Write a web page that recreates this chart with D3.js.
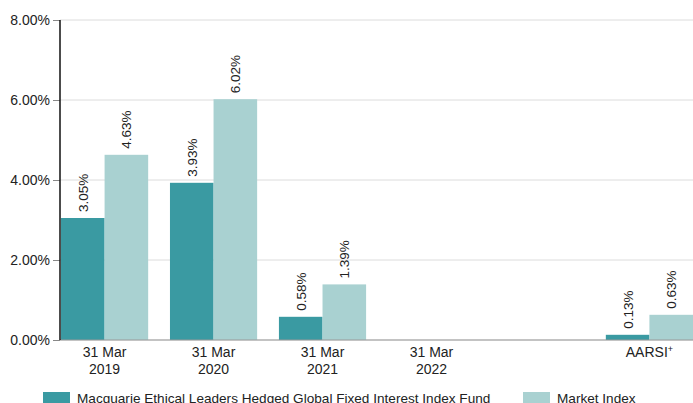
<!DOCTYPE html>
<html>
<head>
<meta charset="utf-8">
<script src="https://cdn.jsdelivr.net/npm/d3@7"></script>
<style>
  body { margin: 0; background: #fff; }
  text { font-family: "Liberation Sans", Arial, sans-serif; fill: #222; }
</style>
</head>
<body>
<script>
// categories along the x axis (one empty slot before AARSI)
var categories = ["2019", "2020", "2021", "2022", "gap", "AARSI"];
var catLabels = [["31 Mar", "2019"], ["31 Mar", "2020"], ["31 Mar", "2021"], ["31 Mar", "2022"], [], ["AARSI"]];
var fundValues = [3.05, 3.93, 0.58, null, null, 0.13];
var marketValues = [4.63, 6.02, 1.39, null, null, 0.63];
var seriesNames = ["Macquarie Ethical Leaders Hedged Global Fixed Interest Index Fund", "Market Index"];
var yTicks = [0, 2, 4, 6, 8];

var w = 693, h = 403;
var left = 60, topY = 20, bottom = 340;
var colours = ["#3a9aa2", "#a9d1d1"];

var svg = d3.select("body").append("svg")
    .attr("width", w)
    .attr("height", h);

var x = d3.scaleBand().domain(categories).range([61, 693]).paddingInner(0.2).paddingOuter(0);
var x1 = d3.scaleBand().domain([0, 1]).range([0, x.bandwidth()]);
var y = d3.scaleLinear().domain([0, 8]).range([bottom, topY]);

// gridlines
svg.append("g")
    .selectAll("line")
    .data(yTicks)
    .enter().append("line")
    .attr("x1", left)
    .attr("x2", w)
    .attr("y1", function(d) { return y(d); })
    .attr("y2", function(d) { return y(d); })
    .attr("stroke", "#dcdcdc")
    .attr("stroke-width", 1);

// y axis
var yAxis = d3.axisLeft(y)
    .tickValues(yTicks)
    .tickSize(7)
    .tickPadding(3)
    .tickFormat(function(d) { return d.toFixed(2) + "%"; });

var gy = svg.append("g")
    .attr("transform", "translate(" + left + ",0)")
    .call(yAxis);
gy.select(".domain").remove();
gy.selectAll(".tick line").attr("stroke", "#888");
gy.selectAll("text").style("font-size", "14px").attr("fill", "#222")
    .style("font-family", "'Liberation Sans', Arial, sans-serif");

// bars
var series = [fundValues, marketValues];
series.forEach(function(vals, s) {
    var rows = categories.map(function(c, i) { return {c: c, v: vals[i]}; })
        .filter(function(d) { return d.v != null; });

    svg.append("g").selectAll("rect")
        .data(rows)
        .enter().append("rect")
        .attr("x", function(d) { return x(d.c) + x1(s); })
        .attr("width", x1.bandwidth())
        .attr("y", function(d) { return y(d.v); })
        .attr("height", function(d) { return y(0) - y(d.v); })
        .attr("fill", colours[s]);

    svg.append("g").selectAll("text")
        .data(rows)
        .enter().append("text")
        .attr("transform", function(d) {
            var cx = x(d.c) + x1(s) + x1.bandwidth() / 2 + 5;
            return "translate(" + cx + "," + (y(d.v) - 6) + ") rotate(-90)";
        })
        .style("font-size", "13.5px")
        .text(function(d) { return d.v.toFixed(2) + "%"; });
});

// baseline and y axis line
svg.append("line")
    .attr("x1", left).attr("x2", w)
    .attr("y1", bottom).attr("y2", bottom)
    .attr("stroke", "#999");
svg.append("line")
    .attr("x1", left).attr("x2", left)
    .attr("y1", topY).attr("y2", bottom)
    .attr("stroke", "#111")
    .attr("stroke-width", 1.5);

// x labels
categories.forEach(function(c, i) {
    var cx = x(c) + x.bandwidth() / 2;
    catLabels[i].forEach(function(line, j) {
        var t = svg.append("text")
            .attr("x", cx)
            .attr("y", 357 + j * 17)
            .attr("text-anchor", "middle")
            .style("font-size", "14px")
            .text(line);
        if (c == "AARSI") {
            t.append("tspan").attr("dy", -5).style("font-size", "9px").text("+");
        }
    });
});

// legend
var legendX = [43, 523];
seriesNames.forEach(function(name, i) {
    svg.append("rect")
        .attr("x", legendX[i])
        .attr("y", 392)
        .attr("width", 27)
        .attr("height", 12)
        .attr("fill", colours[i]);
    svg.append("text")
        .attr("x", legendX[i] + 34)
        .attr("y", 403)
        .style("font-size", "13.6px")
        .text(name);
});
</script>
</body>
</html>
